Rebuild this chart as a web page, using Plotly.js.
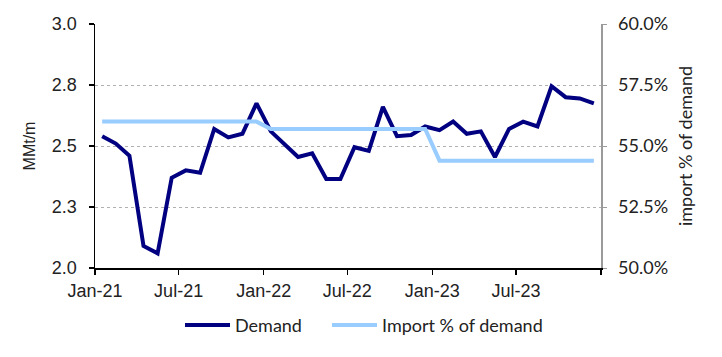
<!DOCTYPE html>
<html>
<head>
<meta charset="utf-8">
<script src="https://cdn.plot.ly/plotly-3.0.1.min.js"></script>
<style>html,body{margin:0;padding:0;background:#fff;}#chart{width:722px;height:357px;}</style>
</head>
<body>
<div id="chart"></div>
<script>
const months = [
  '2021-01','2021-02','2021-03','2021-04','2021-05','2021-06','2021-07','2021-08','2021-09','2021-10','2021-11','2021-12',
  '2022-01','2022-02','2022-03','2022-04','2022-05','2022-06','2022-07','2022-08','2022-09','2022-10','2022-11','2022-12',
  '2023-01','2023-02','2023-03','2023-04','2023-05','2023-06','2023-07','2023-08','2023-09','2023-10','2023-11','2023-12'
];
const demand = [
  2.54, 2.51, 2.46, 2.09, 2.06, 2.37, 2.40, 2.39, 2.57, 2.535, 2.55, 2.675,
  2.56, 2.51, 2.455, 2.47, 2.365, 2.365, 2.495, 2.48, 2.66, 2.54, 2.545, 2.58,
  2.565, 2.60, 2.55, 2.56, 2.455, 2.57, 2.60, 2.58, 2.745, 2.70, 2.695, 2.675
];
const importPct = [
  56.0, 56.0, 56.0, 56.0, 56.0, 56.0, 56.0, 56.0, 56.0, 56.0, 56.0, 56.0,
  55.7, 55.7, 55.7, 55.7, 55.7, 55.7, 55.7, 55.7, 55.7, 55.7, 55.7, 55.7,
  54.4, 54.4, 54.4, 54.4, 54.4, 54.4, 54.4, 54.4, 54.4, 54.4, 54.4, 54.4
];
const xTickVals = ['2021-01-01','2021-07-01','2022-01-01','2022-07-01','2023-01-01','2023-07-01','2024-01-01'];
const xTickText = ['Jan-21','Jul-21','Jan-22','Jul-22','Jan-23','Jul-23',''];

const txt = '#222';
const arial = 'Liberation Sans, Arial, sans-serif';
const lato = 'Lato, sans-serif';
const traces = [
  {
    x: months, y: demand, name: 'Demand', type: 'scatter', mode: 'lines',
    xperiod: 'M1', xperiodalignment: 'middle',
    line: {color: '#000080', width: 4}, yaxis: 'y', legend: 'legend'
  },
  {
    x: months, y: importPct, name: 'Import % of demand', type: 'scatter', mode: 'lines',
    xperiod: 'M1', xperiodalignment: 'middle',
    line: {color: '#99CCFF', width: 4}, yaxis: 'y2', legend: 'legend2'
  }
];
const legendBase = {
  orientation: 'h', xanchor: 'left', y: -0.235, yanchor: 'middle',
  font: {family: lato, size: 18, color: txt}, itemwidth: 45, bgcolor: 'rgba(0,0,0,0)'
};
const layout = {
  width: 722, height: 357,
  margin: {l: 95, r: 121, t: 24, b: 89},
  paper_bgcolor: '#fff', plot_bgcolor: '#fff',
  showlegend: true,
  legend: Object.assign({}, legendBase, {x: 0.168}),
  legend2: Object.assign({}, legendBase, {x: 0.4585}),
  xaxis: {
    type: 'date', range: ['2021-01-01', '2024-01-01'],
    tickvals: xTickVals, ticktext: xTickText,
    showgrid: false, zeroline: false,
    showline: true, linecolor: '#000', linewidth: 1.5,
    ticks: 'outside', ticklen: 5, tickcolor: '#000', tickwidth: 1.5,
    ticklabelstandoff: 1,
    tickfont: {family: arial, size: 18, color: txt}
  },
  yaxis: {
    range: [2.0, 3.0], dtick: 0.25, tick0: 2.0, tickformat: '.1f',
    showline: true, linecolor: '#000', linewidth: 1.5,
    ticks: 'outside', ticklen: 5, tickcolor: '#000', tickwidth: 1.5,
    ticklabelstandoff: 8,
    showgrid: true, gridcolor: '#b0b0b0', griddash: 'dot', gridwidth: 1,
    zeroline: false,
    tickfont: {family: arial, size: 18, color: txt},
    title: {text: 'MMt/m', font: {family: arial, size: 16, color: txt}, standoff: 12}
  },
  yaxis2: {
    overlaying: 'y', side: 'right',
    range: [50, 60], dtick: 2.5, tick0: 50, tickformat: '.1f', ticksuffix: '%',
    showline: true, linecolor: '#9a9a9a', linewidth: 1.5,
    ticks: 'outside', ticklen: 4, tickcolor: '#9a9a9a', tickwidth: 1,
    ticklabelstandoff: 8,
    showgrid: false, zeroline: false,
    tickfont: {family: lato, size: 18, color: txt},
    title: {text: 'import % of demand', font: {family: lato, size: 18, color: txt}, standoff: 12}
  }
};
Plotly.newPlot('chart', traces, layout, {displayModeBar: false, staticPlot: true});
</script>
</body>
</html>
